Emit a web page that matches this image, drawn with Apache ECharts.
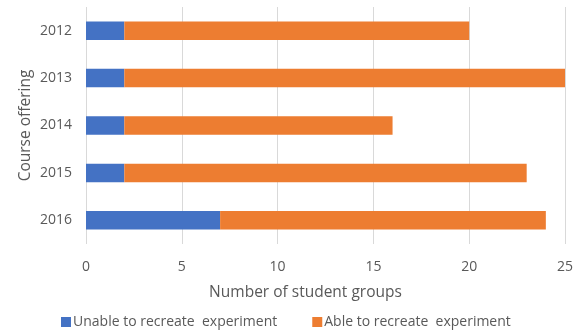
<!DOCTYPE html>
<html><head><meta charset="utf-8">
<script src="https://cdn.jsdelivr.net/npm/echarts@6/dist/echarts.min.js"></script>
<style>html,body{margin:0;padding:0;background:#fff}#c{width:579px;height:331px}</style>
</head><body><div id="c"></div>
<script>
const categories = ['2012', '2013', '2014', '2015', '2016'];
const unableValues = [2, 2, 2, 2, 7];
const ableValues = [18, 23, 14, 21, 17];
const xTicks = [0, 5, 10, 15, 20, 25];
const seriesNames = ['Unable to recreate  experiment', 'Able to recreate  experiment'];

const font = '"Open Sans", Lato, sans-serif';
const chart = echarts.init(document.getElementById('c'));
chart.setOption({
  animation: false,
  textStyle: { fontFamily: font },
  grid: { left: 86, right: 14, top: 7, bottom: 87 },
  legend: {
    bottom: -3, left: 56, itemWidth: 10, itemHeight: 10, itemGap: 35,
    icon: 'rect',
    textStyle: { fontFamily: font, fontSize: 14, color: '#595959', padding: [0,0,0,-3] },
    data: seriesNames
  },
  xAxis: {
    type: 'value', min: xTicks[0], max: xTicks[xTicks.length - 1], interval: 5,
    name: 'Number of student groups', nameLocation: 'middle', nameGap: 41,
    nameMoveOverlap: false,
    nameTextStyle: { fontFamily: font, fontSize: 15.5, color: '#595959', padding: [0, 40, 0, 0] },
    axisLine: { show: false }, axisTick: { show: false },
    axisLabel: { fontFamily: font, fontSize: 14, color: '#595959', margin: 16 },
    splitLine: { lineStyle: { color: '#D9D9D9', width: 1 } }
  },
  yAxis: {
    type: 'category', data: categories, inverse: true,
    name: 'Course offering', nameLocation: 'middle', nameGap: 52, nameRotate: 90,
    nameMoveOverlap: false,
    nameTextStyle: { fontFamily: font, fontSize: 15.5, color: '#595959' },
    axisLine: { show: false }, axisTick: { show: false },
    axisLabel: { fontFamily: font, fontSize: 14, color: '#595959', margin: 14 }
  },
  series: [
    { name: seriesNames[0], type: 'bar', stack: 'a', data: unableValues, barWidth: '39%',
      itemStyle: { color: '#4472C4' } },
    { name: seriesNames[1], type: 'bar', stack: 'a', data: ableValues, barWidth: '39%',
      itemStyle: { color: '#ED7D31' } }
  ]
});
</script></body></html>
